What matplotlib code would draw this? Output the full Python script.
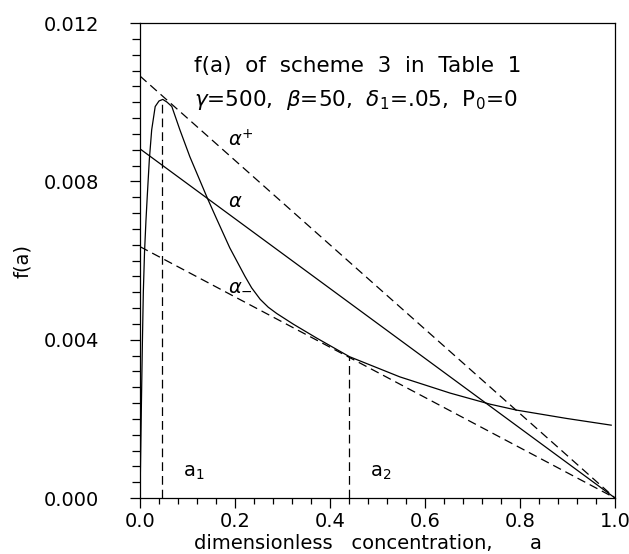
import matplotlib
matplotlib.use("Agg")
import matplotlib.pyplot as plt
import numpy as np

# f(a)
a_vals = [0.0, 0.001, 0.003, 0.005, 0.007, 0.0095, 0.0125, 0.0154, 0.0196, 0.0246,
          0.032, 0.040, 0.048, 0.057, 0.067, 0.084, 0.105, 0.142, 0.161,
          0.189, 0.221, 0.235, 0.253, 0.270, 0.288, 0.323, 0.372, 0.441, 0.547,
          0.653, 0.737, 0.793, 0.898, 0.992]
f_vals = [0.0, 0.0008, 0.0024, 0.0039, 0.0052, 0.0062, 0.0070, 0.00765, 0.00854, 0.0093,
          0.00989, 0.01003, 0.01007, 0.01000, 0.00989, 0.0093, 0.00862, 0.00757, 0.00706,
          0.00632, 0.00560, 0.00531, 0.00502, 0.00482, 0.00466, 0.00439, 0.00404, 0.00357, 0.00306,
          0.00265, 0.00237, 0.00222, 0.00201, 0.00184]

# straight lines through (1, 0): intercepts at a = 0
line_names = [r'$\alpha^{+}$', r'$\alpha$', r'$\alpha_{-}$']
line_intercepts = [0.01066, 0.00882, 0.00635]
line_dashed = [True, False, True]
line_label_pos = [(0.185, 0.00904), (0.185, 0.00748), (0.185, 0.0054)]

# marked points a1, a2
mark_names = [r'a$_1$', r'a$_2$']
mark_a = [0.047, 0.441]
mark_f = [0.01007, 0.00357]
mark_label_pos = [(0.09, 0.0004), (0.484, 0.0004)]

x_ticks = [0.0, 0.2, 0.4, 0.6, 0.8, 1.0]
y_ticks = [0.000, 0.004, 0.008, 0.012]

plt.rcParams['font.family'] = ['DejaVu Sans']
plt.rcParams['mathtext.fontset'] = 'dejavusans'

fig = plt.figure(figsize=(6.29, 5.54), dpi=100)
ax = fig.add_axes([140 / 629, 1 - 498 / 554, 475 / 629, 475 / 554])

lw = 0.9
dash = (0, (7, 4))

ax.plot(a_vals, f_vals, color='black', lw=lw)

for name, b, dashed, pos in zip(line_names, line_intercepts, line_dashed, line_label_pos):
    xs = np.array([0.0, 1.0])
    ax.plot(xs, b * (1 - xs), color='black', lw=lw,
            linestyle=dash if dashed else '-')
    ax.text(pos[0], pos[1], name, fontsize=14, ha='left', va='center')

for name, xa, fa, pos in zip(mark_names, mark_a, mark_f, mark_label_pos):
    ax.plot([xa, xa], [0, fa], color='black', lw=lw, linestyle=dash)
    ax.text(pos[0], pos[1], name, fontsize=14, ha='left', va='bottom')

ax.text(0.114, 0.01092, 'f(a)  of  scheme  3  in  Table  1', fontsize=15.5,
        ha='left', va='center')
ax.text(0.114, 0.01006, r'$\gamma$=500,  $\beta$=50,  $\delta_1$=.05,  P$_0$=0',
        fontsize=15.5, ha='left', va='center')

ax.set_xlim(0, 1)
ax.set_ylim(0, 0.012)
ax.set_xticks(x_ticks)
ax.set_xticklabels([f'{v:.1f}' for v in x_ticks])
ax.set_yticks(y_ticks)
ax.set_yticklabels([f'{v:.3f}' for v in y_ticks])
ax.set_xticks(np.arange(0, 1.0001, 0.04), minor=True)
ax.set_yticks(np.arange(0, 0.01201, 0.0004), minor=True)

ax.tick_params(axis='both', which='both', direction='out', labelsize=14,
               top=False, right=False, width=0.9)
ax.tick_params(axis='y', which='major', length=7.5, pad=22)
ax.tick_params(axis='y', which='minor', length=5.5)
ax.tick_params(axis='x', which='major', length=7, pad=3)
ax.tick_params(axis='x', which='minor', length=4)
for sp in ax.spines.values():
    sp.set_linewidth(0.9)

ax.set_xlabel('dimensionless   concentration,      a', fontsize=14, labelpad=0)
ax.xaxis.set_label_coords(0.48, -0.076)
ax.set_ylabel('f(a)', fontsize=14, labelpad=8)

fig.savefig('out.png', dpi=100)
